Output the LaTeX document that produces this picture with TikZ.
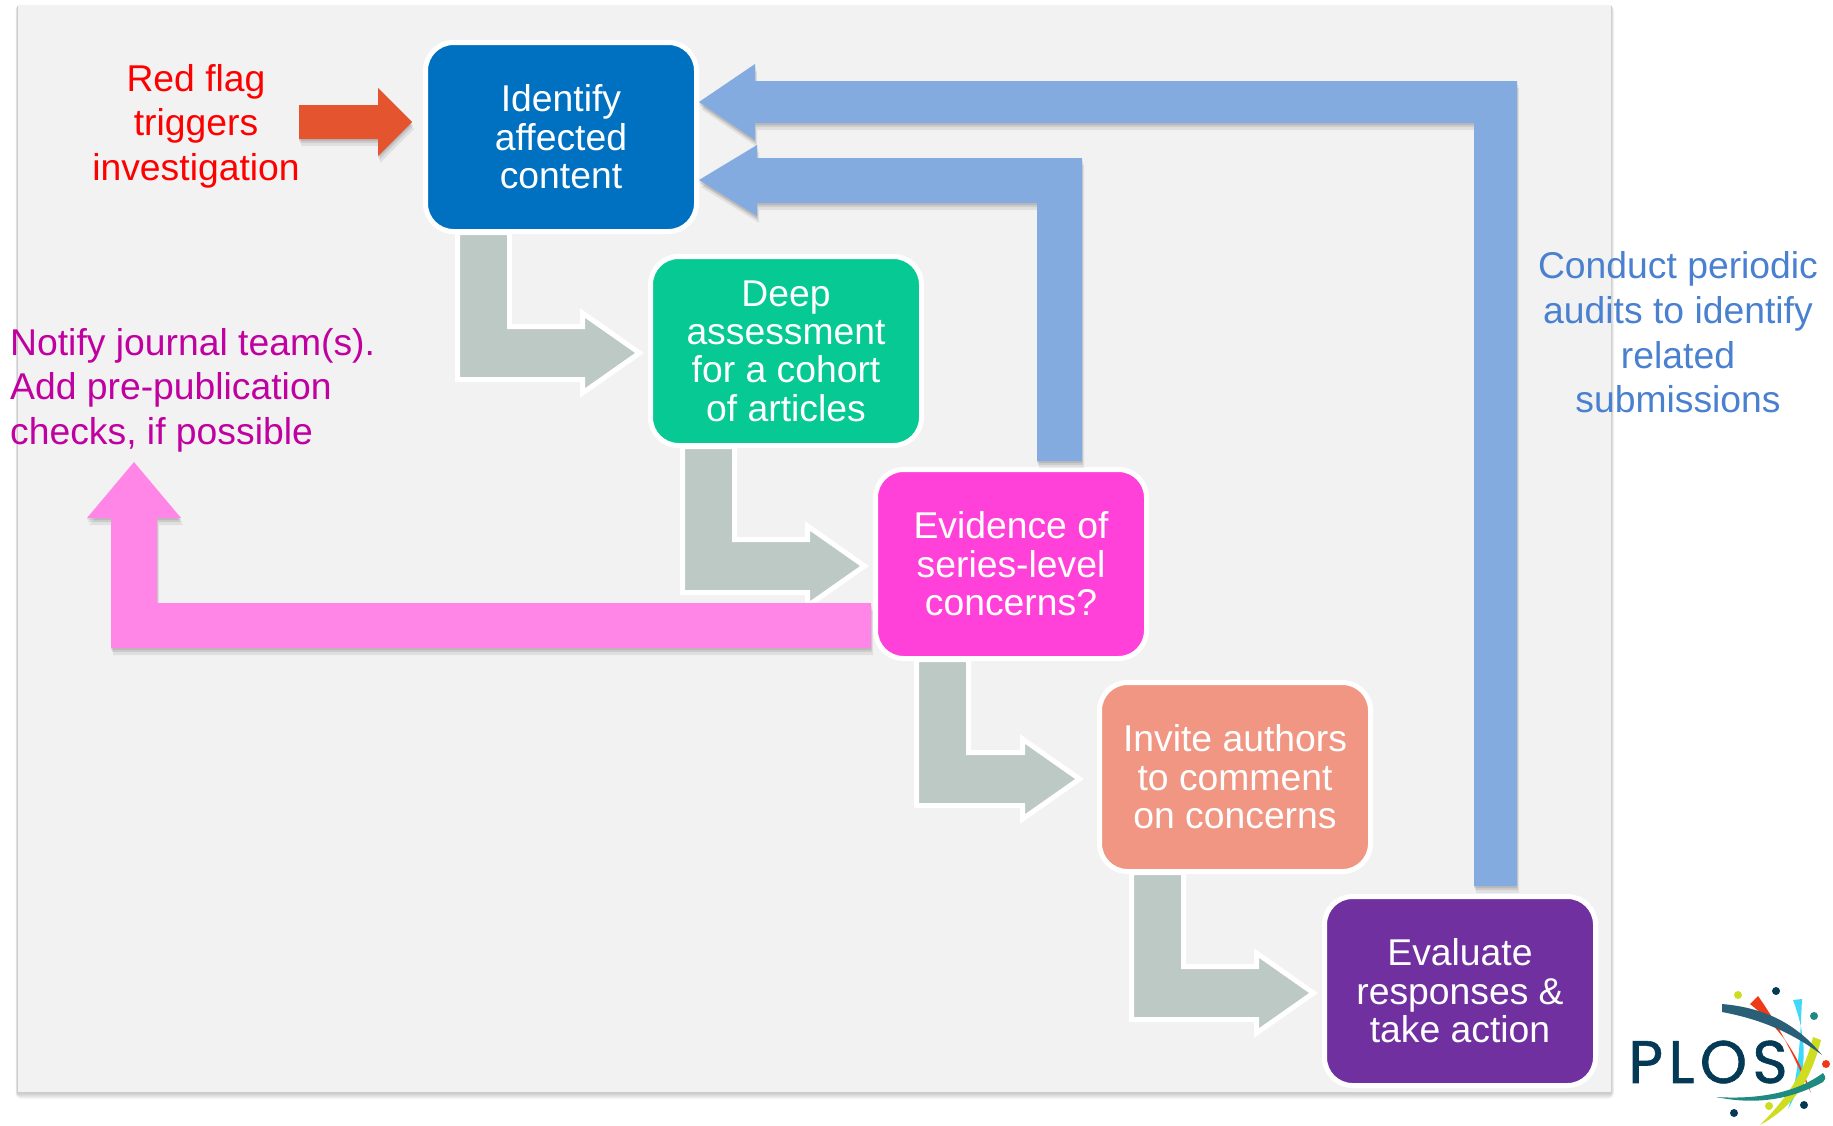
\documentclass[tikz,border=0pt]{standalone}
\usepackage{fontspec}
\setmainfont{Liberation Sans}
\newfontfamily\logofont[LetterSpace=9,FakeBold=1]{Poppins}
\usetikzlibrary{calc,shadows}

\definecolor{panelgray}{HTML}{F2F2F2}
\definecolor{elbowgray}{HTML}{BCC9C5}
\definecolor{auditblue}{HTML}{84ABE0}
\definecolor{audittext}{HTML}{4A80D0}
\definecolor{notifypink}{HTML}{FF85E6}
\definecolor{notifytext}{HTML}{C000A0}
\definecolor{flagorange}{HTML}{E4552F}
\definecolor{logonavy}{HTML}{043A56}
\definecolor{logoslate}{HTML}{2A5F78}
\definecolor{logocyan}{HTML}{40D8F8}
\definecolor{logored}{HTML}{F03A17}
\definecolor{logolime}{HTML}{CFDD20}
\definecolor{logoteal}{HTML}{1F8A80}

\tikzset{
  box/.style={draw=white, line width=5pt, rounded corners=28pt, outer sep=0pt,
    minimum width=271pt, minimum height=189pt, align=center, text=white,
    font=\fontsize{37.3}{38.4}\selectfont},
  elbow/.style={draw=white, line width=5pt, fill=elbowgray, line join=miter},
  softshadow/.style={
    drop shadow={shadow xshift=0pt, shadow yshift=-2pt, opacity=.09, fill=black},
    drop shadow={shadow xshift=1pt, shadow yshift=-4pt, opacity=.09, fill=black},
    drop shadow={shadow xshift=2pt, shadow yshift=-7pt, opacity=.07, fill=black}},
  feedback/.style={fill=auditblue, softshadow},
  notify/.style={fill=notifypink, softshadow},
  note/.style={align=center, inner sep=0pt, font=\fontsize{37.3}{44.6}\selectfont},
}

\newcommand{\elbowarrow}[4]{
  \coordinate (left) at ($(#1.south west)+(32+#3,1)$);
  \coordinate (right) at ($(#1.south west)+(84+#3,1)$);
  \draw[elbow] (left) -- (right) |- ($(#2.west)+(-68+#4,-24.5)$) -- ($(#2.west)+(-68+#4,-38)$)
    -- ($(#2.west)+(-11+#4,2)$) -- ($(#2.west)+(-68+#4,42)$) -- ($(#2.west)+(-68+#4,28.5)$) -| (left) -- cycle;
}
\newcommand{\swoosh}[5]{
  \fill[#1] #2 .. controls #3 and #4 .. #5;
}

\begin{document}
\begin{tikzpicture}[x=1pt,y=-1pt]
  \useasboundingbox (0,0) rectangle (1833,1125);
  \foreach \blur in {1,...,6} {
    \fill[black, opacity=.035, rounded corners=\blur pt] (17.5-\blur/3,5) rectangle (1611+\blur/2,1093+\blur);
  }
  \fill[panelgray] (17.5,5) rectangle (1611,1092);

  \node[box, fill={rgb,255:red,0;green,112;blue,192}] (identify) at (561,137) {Identify\\affected\\content};
  \node[box, fill={rgb,255:red,7;green,201;blue,147}] (assess) at (786,351) {Deep\\assessment\\for a cohort\\of articles};
  \node[box, fill={rgb,255:red,255;green,64;blue,217}] (evidence) at (1011,564) {Evidence of\\series-level\\concerns?};
  \node[box, fill={rgb,255:red,240;green,150;blue,131}] (invite) at (1235,777) {Invite authors\\to comment\\on concerns};
  \node[box, fill={rgb,255:red,112;green,48;blue,160}] (evaluate) at (1460,991) {Evaluate\\responses \&\\take action};

  \elbowarrow{identify}{assess}{0}{0}
  \elbowarrow{assess}{evidence}{0}{0}
  \elbowarrow{evidence}{invite}{9}{-9}
  \elbowarrow{invite}{evaluate}{0}{0}

  % audit arrows back to the first box
  \coordinate (auditout) at ($(evaluate.north west)+(192.5,-10.5)$);
  \coordinate (auditin) at ($(evaluate.north west)+(149.5,-10.5)$);
  \fill[feedback] ($(identify.east)+(2.5,-35)$) -- ($(identify.east)+(58.5,-73)$) -- ($(identify.east)+(58.5,-56)$)
    -| (auditout) -- (auditin) |- ($(identify.east)+(58.5,-14)$) -- ($(identify.east)+(58.5,3)$) -- cycle;
  \coordinate (seriesout) at ($(evidence.north west)+(206.5,-8.5)$);
  \coordinate (seriesin) at ($(evidence.north west)+(161.5,-8.5)$);
  \fill[feedback] ($(identify.east)+(2.5,43)$) -- ($(identify.east)+(60.5,8)$) -- ($(identify.east)+(60.5,21)$)
    -| (seriesout) -- (seriesin) |- ($(identify.east)+(60.5,66)$) -- ($(identify.east)+(60.5,79)$) -- cycle;

  \node[note, text=red] (redflag) at (196,126) {Red flag\\triggers\\investigation};
  \fill[fill=flagorange, softshadow] (identify.west) ++(-126.5,-32) coordinate (redstart) -| ($(identify.west)+(-47.5,-49)$)
    -- ($(identify.west)+(-13.5,-15)$) -- ($(identify.west)+(-47.5,19)$) |- ($(identify.west)+(-126.5,2)$) -- cycle;

  \node[note, text=notifytext, align=left, anchor=west] (journal) at (10,390)
    {Notify journal team(s).\\Add pre-publication\\checks, if possible};
  \coordinate (notifytip) at (134,462);
  \fill[notify] (notifytip) -- ++(47,56) -- ++(-24,0) |- ($(evidence.west)+(-4.5,39)$) -- ($(evidence.west)+(-4.5,84)$)
    -| (111,518) -- (87,518) -- cycle;

  \node[note, text=audittext] (audits) at (1678,332.5) {Conduct periodic\\audits to identify\\related\\submissions};

  % logo
  \swoosh{logocyan}{(1793,1000)}{(1808,1040)}{(1808,1075)}{(1788,1109) .. controls (1799,1075) and (1800,1040) .. (1802,999) -- cycle}
  \swoosh{logored}{(1750,1004)}{(1785,1032)}{(1800,1060)}{(1811,1093) .. controls (1795,1060) and (1782,1030) .. (1758,996) -- cycle}
  \swoosh{logolime}{(1813,1037)}{(1805,1070)}{(1790,1095)}{(1760,1125) .. controls (1797,1105) and (1812,1075) .. (1821,1040) -- cycle}
  \swoosh{logoslate}{(1722,1004)}{(1770,1008)}{(1800,1028)}{(1822,1055) .. controls (1795,1035) and (1765,1020) .. (1722,1012) -- cycle}
  \swoosh{logoteal}{(1716,1097)}{(1765,1100)}{(1800,1090)}{(1823,1073) .. controls (1827,1078) and (1825,1080) .. (1823,1082) .. controls (1790,1100) and (1755,1105) .. (1716,1097) -- cycle}
  \node[inner sep=0pt, text=logonavy, font=\logofont\fontsize{60}{60}\selectfont] (plos) at (1708,1062) {PLOS};
  \foreach \dotx/\doty/\dotc in {1738/995/logolime, 1776/991/logonavy, 1814/1016/logoteal, 1826/1064/logored,
    1804/1105/logonavy, 1769/1106/logolime, 1734/1113/logonavy} {
    \fill[\dotc] (\dotx,\doty) circle (4pt);
  }
\end{tikzpicture}
\end{document}
